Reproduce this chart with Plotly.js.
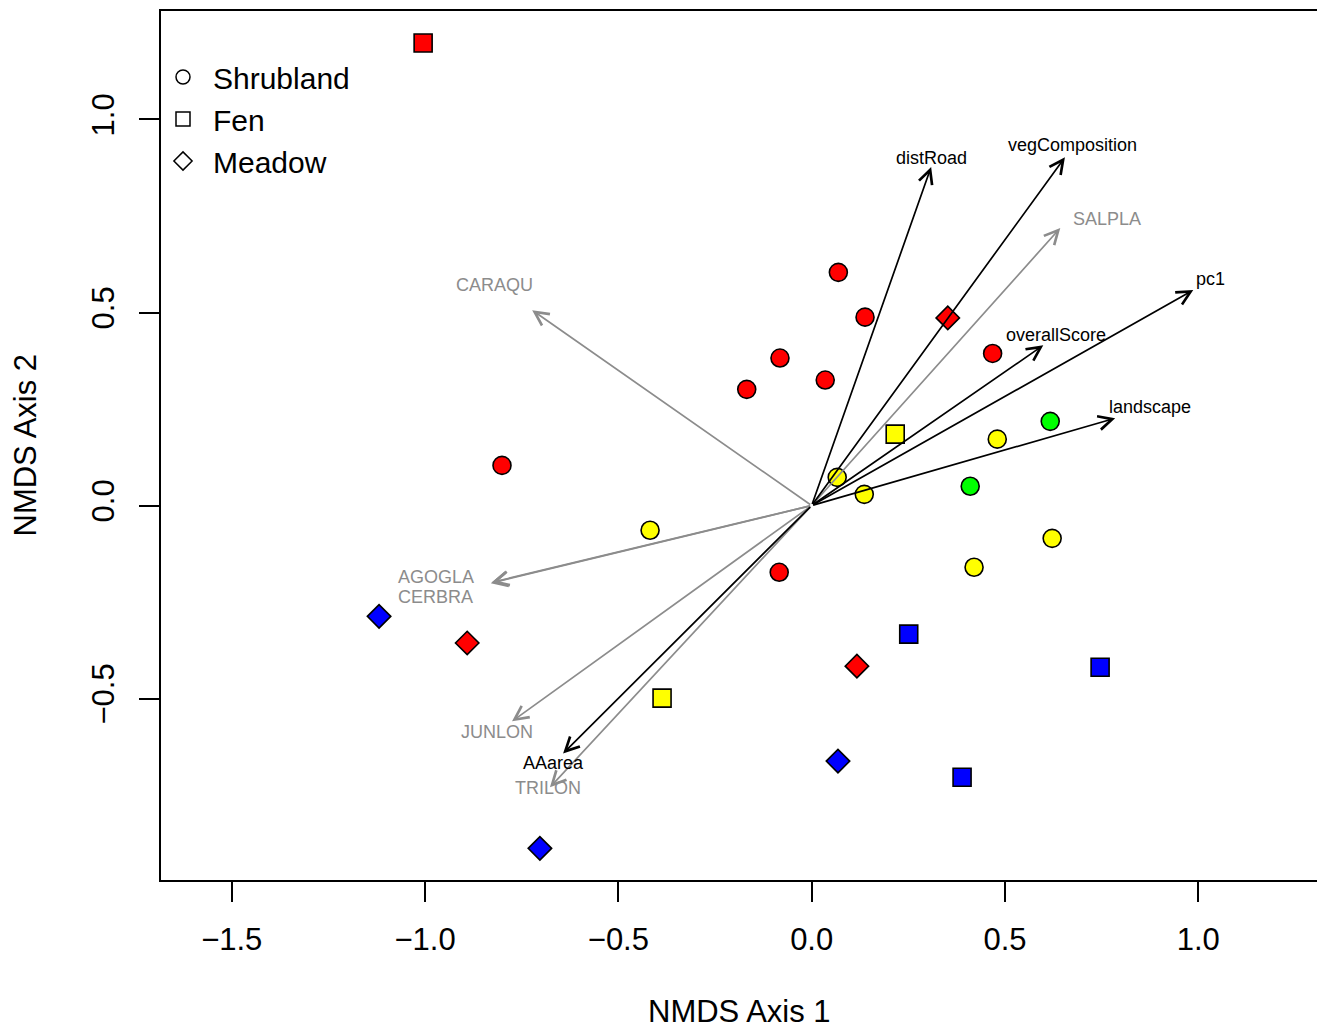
<!DOCTYPE html>
<html><head><meta charset="utf-8">
<script src="https://cdn.plot.ly/plotly-3.0.1.min.js"></script>
<style>html,body{margin:0;padding:0;background:#fff;overflow:hidden}</style>
</head><body><div id="chart" style="width:1317px;height:1030px"></div>
<script>
// ---- Site scores (NMDS axis 1 / axis 2) ----
const habitatNames = ['Shrubland', 'Fen', 'Meadow'];
const siteHabitat = [
  'Shrubland','Shrubland','Shrubland','Shrubland','Shrubland','Shrubland','Shrubland','Shrubland',
  'Shrubland','Shrubland','Shrubland','Shrubland','Shrubland','Shrubland','Shrubland','Shrubland',
  'Fen','Fen','Fen','Fen','Fen','Fen',
  'Meadow','Meadow','Meadow','Meadow','Meadow','Meadow'
];
const siteClass = [
  1,1,1,1,1,1,1,1,
  2,2,2,2,2,2,3,3,
  1,2,2,4,4,4,
  1,1,1,4,4,4
];
const siteX = [
  0.069, 0.138, -0.082, -0.168, 0.035, 0.468, -0.801, -0.084,
  0.066, 0.136, 0.480, -0.418, 0.420, 0.622, 0.617, 0.410,
  -1.005, 0.216, -0.387, 0.251, 0.746, 0.389,
  0.352, -0.891, 0.117, -1.119, 0.068, -0.703
];
const siteY = [
  0.604, 0.488, 0.382, 0.301, 0.325, 0.394, 0.104, -0.173,
  0.073, 0.029, 0.172, -0.064, -0.160, -0.085, 0.218, 0.050,
  1.198, 0.185, -0.499, -0.333, -0.419, -0.704,
  0.486, -0.356, -0.416, -0.287, -0.662, -0.888
];

// ---- Environmental vectors (black) ----
const envNames  = ['distRoad', 'vegComposition', 'pc1', 'overallScore', 'landscape', 'AAarea'];
const envX      = [0.309, 0.655, 0.987, 0.599, 0.785, -0.643];
const envY      = [0.877, 0.902, 0.558, 0.415, 0.226, -0.642];
const envLabelX = [0.311, 0.674, 1.031, 0.632, 0.875, -0.669];
const envLabelY = [0.900, 0.933, 0.588, 0.441, 0.255, -0.667];

// ---- Species vectors (grey) ----
const spNames  = ['SALPLA', 'CARAQU', 'AGOGLA', 'CERBRA', 'JUNLON', 'TRILON'];
const spX      = [0.643, -0.723, -0.830, -0.827, -0.775, -0.677];
const spY      = [0.719, 0.506, -0.201, -0.199, -0.559, -0.730];
const spLabelX = [0.764, -0.821, -0.972, -0.972, -0.814, -0.682];
const spLabelY = [0.742, 0.571, -0.186, -0.237, -0.587, -0.732];

// ---- Axis ticks ----
const xTickVals = [-1.5, -1.0, -0.5, 0.0, 0.5, 1.0];
const xTickText = ['\u22121.5', '\u22121.0', '\u22120.5', '0.0', '0.5', '1.0'];
const yTickVals = [-0.5, 0.0, 0.5, 1.0];
const yTickText = ['\u22120.5', '0.0', '0.5', '1.0'];

// ---- Styles ----
const FONT = 'Liberation Sans, Arial, Helvetica, sans-serif';
const classColours = {1: '#ff0000', 2: '#ffff00', 3: '#00ff00', 4: '#0000ff'};
const habitatSymbol = {Shrubland: 'circle', Fen: 'square', Meadow: 'diamond'};
const GREY = '#8c8c8c';

const traces = [];
habitatNames.forEach(function (h) {
  [1, 2, 3, 4].forEach(function (c) {
    const xs = [], ys = [];
    for (let i = 0; i < siteX.length; i++) {
      if (siteHabitat[i] === h && siteClass[i] === c) { xs.push(siteX[i]); ys.push(siteY[i]); }
    }
    if (xs.length) {
      traces.push({
        type: 'scatter', mode: 'markers', x: xs, y: ys, showlegend: false, hoverinfo: 'skip',
        marker: {symbol: habitatSymbol[h], size: 18, color: classColours[c], line: {color: '#000', width: 1.6}}
      });
    }
  });
});
habitatNames.forEach(function (h) {
  traces.push({
    type: 'scatter', mode: 'markers', x: [null], y: [null], name: h, showlegend: true,
    marker: {symbol: habitatSymbol[h] + '-open', size: 14, color: '#000', line: {color: '#000', width: 1.5}}
  });
});

const annotations = [];
function addVectors(names, xs, ys, lx, ly, colour) {
  for (let i = 0; i < names.length; i++) {
    annotations.push({
      x: xs[i], y: ys[i], ax: 0, ay: 0, xref: 'x', yref: 'y', axref: 'x', ayref: 'y',
      text: '', showarrow: true, arrowhead: 5, arrowsize: 1.6, arrowwidth: 1.7,
      arrowcolor: colour, standoff: 0, startstandoff: 0
    });
    annotations.push({
      x: lx[i], y: ly[i], xref: 'x', yref: 'y', text: names[i], showarrow: false,
      xanchor: 'center', yanchor: 'middle', font: {family: FONT, size: 18, color: colour}
    });
  }
}
addVectors(spNames, spX, spY, spLabelX, spLabelY, GREY);
addVectors(envNames, envX, envY, envLabelX, envLabelY, '#000');

annotations.push({
  xref: 'paper', yref: 'paper', x: 0.5, y: (880 - 1012) / 869, text: 'NMDS Axis 1', showarrow: false,
  xanchor: 'center', yanchor: 'middle', font: {family: FONT, size: 31, color: '#000'}
});
annotations.push({
  xref: 'paper', yref: 'paper', x: (25 - 161) / 1156, y: 0.5, text: 'NMDS Axis 2', showarrow: false,
  textangle: -90, xanchor: 'center', yanchor: 'middle', font: {family: FONT, size: 31, color: '#000'}
});

const axisCommon = {
  showgrid: false, zeroline: false, showline: true, linecolor: '#000', linewidth: 2,
  ticks: 'outside', ticklen: 20, tickwidth: 2, tickcolor: '#000',
  tickfont: {family: FONT, size: 31, color: '#000'}, fixedrange: true
};

const layout = {
  width: 1317, height: 1030,
  margin: {l: 161, r: 0, t: 11, b: 150, pad: 0},
  paper_bgcolor: '#fff', plot_bgcolor: '#fff',
  font: {family: FONT, color: '#000'},
  showlegend: true,
  legend: {
    x: (153 - 161) / 1156, y: (880 - 51) / 869, xanchor: 'left', yanchor: 'top',
    font: {family: FONT, size: 30, color: '#000'}, itemwidth: 50,
    bgcolor: 'rgba(0,0,0,0)', borderwidth: 0, tracegroupgap: 0
  },
  xaxis: Object.assign({}, axisCommon, {
    range: [-1.683, 1.307], mirror: true, tickmode: 'array', tickvals: xTickVals, ticktext: xTickText,
    ticklabelstandoff: 11
  }),
  yaxis: Object.assign({}, axisCommon, {
    range: [-0.970, 1.281], mirror: false, tickmode: 'array', tickvals: yTickVals, ticktext: yTickText,
    tickangle: -90, ticklabelstandoff: 13
  }),
  annotations: annotations
};

Plotly.newPlot('chart', traces, layout, {displayModeBar: false, staticPlot: true});
</script></body></html>
